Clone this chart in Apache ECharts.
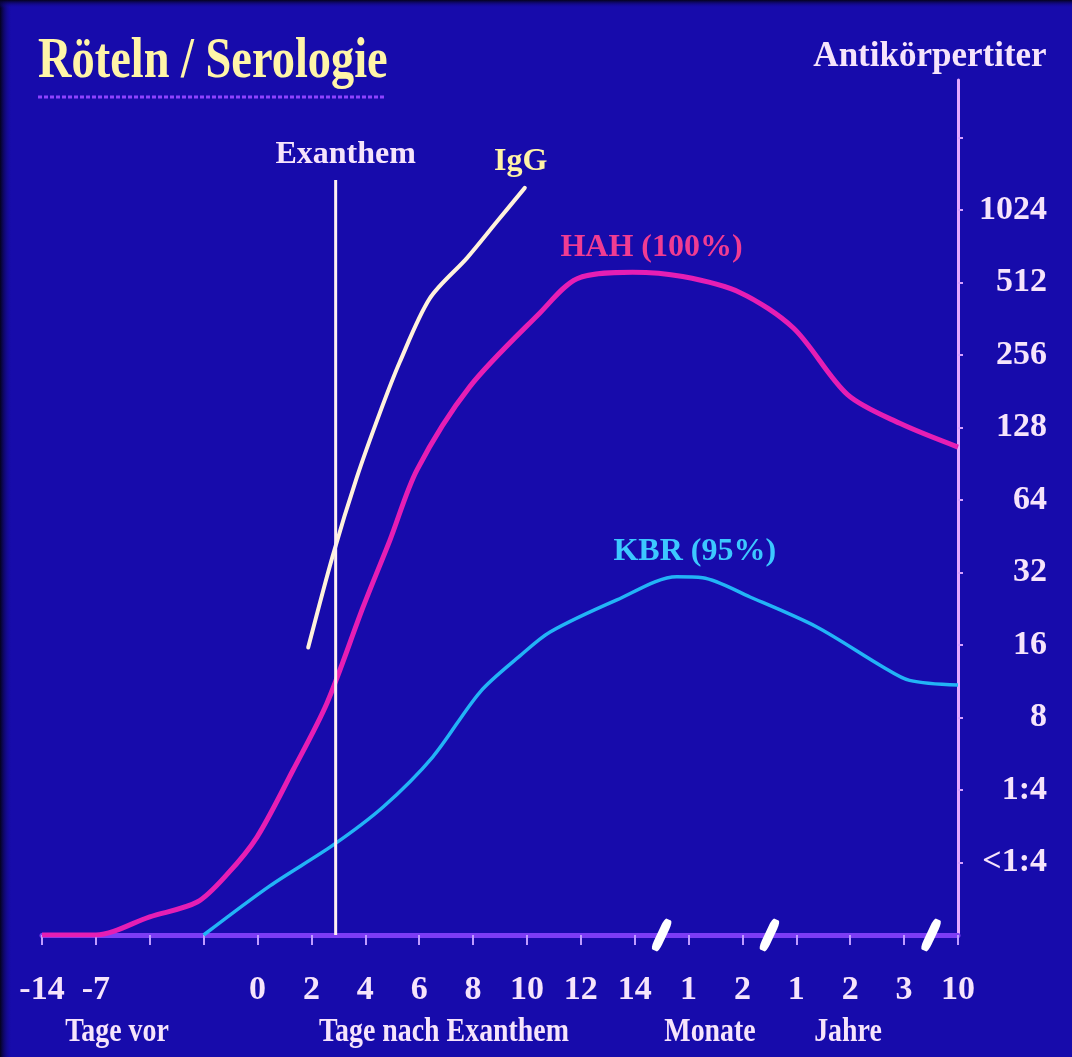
<!DOCTYPE html>
<html>
<head>
<meta charset="utf-8">
<script src="https://cdn.jsdelivr.net/npm/echarts@6/dist/echarts.min.js"></script>
<style>
  html, body { margin: 0; padding: 0; background: #170bab; }
  #chart { width: 1072px; height: 1057px; }
</style>
</head>
<body>
<div id="chart"></div>
<script>
// Time axis is a sequence of evenly spaced slots (0 = -14 days ... 17 = 10 years),
// with breaks between the day, month and year sections.
const xTickLabels = ['-14', '-7', '', '', '0', '2', '4', '6', '8', '10', '12', '14', '1', '2', '1', '2', '3', '10'];
const axisBreaks = [11.5, 13.5, 16.5];
const sectionLabels = ['Tage vor', 'Tage nach Exanthem', 'Monate', 'Jahre'];

// Titer scale: one step per doubling (log2 level -> label)
const yTickLabels = { 1: '<1:4', 2: '1:4', 3: '8', 4: '16', 5: '32', 6: '64', 7: '128', 8: '256', 9: '512', 10: '1024' };
const yTopLevel = 11.79;

// HAH (haemagglutination inhibition) titer course
const hahX     = [0, 1, 2, 2.88, 3.43, 3.99, 4.66, 5.29, 5.96, 6.46, 6.96, 7.94, 9.24, 9.93, 10.96, 11.89, 12.95, 13.95, 14.95, 15.92, 17];
const hahTiter = [1, 1, 1.19, 1.37, 1.78, 2.55, 4.84, 9.19, 23, 43.7, 85.3, 189, 382, 530, 564, 541, 465, 330, 175, 133, 106];

// KBR (complement fixation) titer course
const kbrX     = [3, 4.23, 5.4, 6.33, 7.25, 8.13, 8.87, 9.43, 10.67, 11.78, 12.26, 13.14, 14.38, 15.6, 16.1, 17];
const kbrTiter = [1, 1.6, 2.36, 3.4, 5.48, 10.2, 14.4, 18.1, 24.6, 30.7, 30.4, 25.3, 19.0, 13.0, 11.4, 10.9];

// IgG rise
const igX     = [4.94, 5.4, 5.84, 6.27, 6.64, 7.2, 7.89, 8.44, 8.96];
const igTiter = [15.6, 37.8, 79, 147, 239, 440, 647, 913, 1263];

// Onset of the rash (Exanthem)
const exanthemX = 5.45;
const exanthemTiter = [1, 1360];

const FONT = '"Liberation Serif", "Times New Roman", serif';
const TEXT = '#f6e4fb';

function toPoints(xs, titers, labelIdx, labelText, labelOpts) {
  return xs.map(function (x, i) {
    const p = { value: [x, Math.log2(titers[i])] };
    if (i === labelIdx) {
      p.label = Object.assign({
        show: true, formatter: labelText, position: 'top',
        fontFamily: FONT, fontWeight: 'bold'
      }, labelOpts);
    }
    return p;
  });
}

const chart = echarts.init(document.getElementById('chart'), null, { renderer: 'canvas' });

// symbols kept (size 0) so that the per-point labels are rendered
const lineBase = { type: 'line', showSymbol: true, symbol: 'circle', symbolSize: 0,
                   animation: false, silent: true, emphasis: { disabled: true } };

function sectionText(x, text) {
  return { type: 'text', x: x, y: 1032, scaleX: 0.82, z: 50,
           style: { text: text, fill: TEXT, font: 'bold 34px ' + FONT, textAlign: 'center', textVerticalAlign: 'middle' } };
}

chart.setOption({
  backgroundColor: '#170bab',
  animation: false,
  grid: { left: 42, right: 114, top: 80, bottom: 122, containLabel: false, outerBoundsMode: 'none' },
  xAxis: {
    type: 'value', min: 0, max: 17, interval: 1,
    axisLine: { show: true, onZero: false, lineStyle: { color: '#7d3cf5', width: 5 } },
    axisTick: { show: true, length: 10, lineStyle: { color: '#c09cff', width: 2 } },
    splitLine: { show: false },
    axisLabel: {
      margin: 38, color: TEXT, fontFamily: FONT, fontWeight: 'bold', fontSize: 34,
      formatter: function (v) { return xTickLabels[Math.round(v)] || ''; }
    }
  },
  yAxis: {
    type: 'value', position: 'right', min: 0, max: yTopLevel, interval: 1,
    name: 'Antikörpertiter', nameLocation: 'end', nameGap: 6,
    nameTextStyle: { color: TEXT, fontFamily: FONT, fontWeight: 'bold', fontSize: 35, padding: [0, 56, 0, 0] },
    axisLine: { show: true, onZero: false, lineStyle: { color: '#e6a8ff', width: 3 } },
    axisTick: { show: true, length: 5, lineStyle: { color: '#d8a0ff', width: 2 },
                customValues: [1, 2, 3, 4, 5, 6, 7, 8, 9, 10, 11] },
    splitLine: { show: false },
    axisLabel: {
      align: 'right', margin: 89, color: TEXT, fontFamily: FONT, fontWeight: 'bold', fontSize: 34,
      padding: [14, 0, 0, 0],
      customValues: [1, 2, 3, 4, 5, 6, 7, 8, 9, 10],
      formatter: function (v) { return yTickLabels[Math.round(v)] || ''; }
    }
  },
  graphic: [
    { type: 'rect', z: 100, shape: { x: 0, y: 0, width: 12, height: 1057 },
      style: { fill: new echarts.graphic.LinearGradient(0, 0, 1, 0, [
        { offset: 0, color: '#04021c' }, { offset: 1, color: 'rgba(23,11,171,0)' }]) } },
    { type: 'rect', z: 100, shape: { x: 0, y: 0, width: 1072, height: 8 },
      style: { fill: new echarts.graphic.LinearGradient(0, 0, 0, 1, [
        { offset: 0, color: '#04021c' }, { offset: 1, color: 'rgba(23,11,171,0)' }]) } },
    { type: 'text', x: 38, y: 33, scaleX: 0.8, z: 50,
      style: { text: 'Röteln / Serologie', fill: '#fff5a8', font: 'bold 58px ' + FONT,
               textAlign: 'left', textVerticalAlign: 'top' } },
    { type: 'line', z: 50, shape: { x1: 38, y1: 97, x2: 386, y2: 97 },
      style: { stroke: '#8e42ff', lineWidth: 3, lineDash: [4, 2] } },
    sectionText(117, sectionLabels[0]),
    sectionText(444, sectionLabels[1]),
    sectionText(710, sectionLabels[2]),
    sectionText(848, sectionLabels[3])
  ],
  series: [
    Object.assign({}, lineBase, {
      name: 'HAH', smooth: 0.3, z: 3,
      lineStyle: { color: '#e61eb4', width: 5 },
      data: toPoints(hahX, hahTiter, 14, 'HAH (100%)',
                     { color: '#f03c92', fontSize: 32, distance: 8, offset: [19, 0] })
    }),
    Object.assign({}, lineBase, {
      name: 'KBR', smooth: 0.3, z: 3,
      lineStyle: { color: '#22b4f6', width: 3.5 },
      data: toPoints(kbrX, kbrTiter, 9, 'KBR (95%)',
                     { color: '#3cc8ff', fontSize: 32, distance: 9, offset: [18, 0] })
    }),
    Object.assign({}, lineBase, {
      name: 'IgG', smooth: 0.3, z: 4,
      lineStyle: { color: '#fff2dc', width: 4, cap: 'round' },
      data: toPoints(igX, igTiter, igX.length - 1, 'IgG',
                     { color: '#fff4a6', fontSize: 32, distance: 10, offset: [-4, 0] })
    }),
    Object.assign({}, lineBase, {
      name: 'Exanthem', z: 5,
      lineStyle: { color: '#fff0f2', width: 3 },
      data: toPoints([exanthemX, exanthemX], exanthemTiter, 1, 'Exanthem',
                     { color: TEXT, fontSize: 32, distance: 9, offset: [10, 0] })
    }),
    {
      type: 'scatter', name: 'breaks', z: 10, clip: false, silent: true, animation: false,
      symbol: 'roundRect', symbolSize: [9, 34], symbolRotate: -25,
      itemStyle: { color: '#ffffff', opacity: 1 },
      emphasis: { disabled: true },
      data: axisBreaks.map(function (x) { return [x, 0]; })
    }
  ]
});
</script>
</body>
</html>
